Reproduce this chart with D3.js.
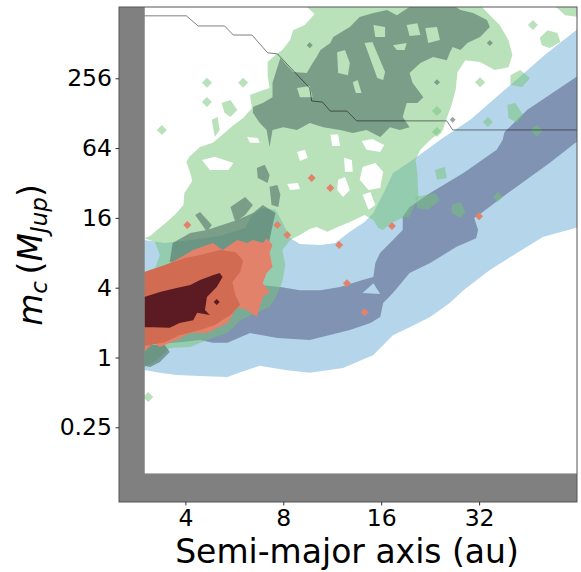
<!DOCTYPE html>
<html><head><meta charset="utf-8">
<script src="https://cdn.jsdelivr.net/npm/d3@7"></script>
<style>html,body{margin:0;padding:0;background:#fff;}svg{display:block;font-family:"DejaVu Sans",sans-serif;}</style>
</head><body>
<svg id="chart" width="581" height="572"></svg>
<script>
// ---------- data (all vertices are [log2(a / au), log2(m_c / M_Jup)]) ----------
const xDomain = [2.5, 64];
const yDomain = [0.0567, 1055];
const xTicks = [4, 8, 16, 32];
const yTicks = [0.25, 1, 4, 16, 64, 256];
const maskA = 3;      // excluded region a < 3 au
const maskM = 0.1;    // excluded region m < 0.1 M_Jup

const blueOuter = [[1.58,3.37],[1.79,3.28],[2.05,3.37],[2.35,3.48],[2.61,3.71],[2.68,4.08],[2.78,4.28],[2.92,4.23],[2.99,3.88],[3.07,3.42],[3.17,3.25],[3.38,3.22],[3.53,3.28],[3.68,3.60],[3.83,3.88],[3.92,4.14],[4.04,4.80],[4.12,5.29],[4.32,5.66],[4.63,6.29],[4.91,6.81],[5.32,7.81],[5.67,8.67],[6.02,9.44],[6.02,3.74],[5.65,3.45],[5.39,3.00],[5.11,2.51],[4.84,1.93],[4.70,1.56],[4.50,1.16],[4.29,0.87],[4.12,0.64],[3.92,0.07],[3.61,-0.30],[3.27,-0.44],[3.02,-0.36],[2.76,-0.24],[2.56,-0.42],[2.43,-0.56],[2.15,-0.53],[1.91,-0.50],[1.74,-0.44],[1.58,-0.36]];
const blueInner = [[1.58,1.65],[1.94,1.76],[2.35,1.88],[2.61,2.02],[2.76,2.08],[2.97,2.02],[3.17,1.93],[3.38,1.93],[3.58,2.02],[3.81,2.22],[3.92,2.31],[3.94,2.71],[3.99,3.00],[4.12,3.37],[4.22,3.65],[4.22,4.03],[4.29,4.31],[4.50,4.71],[4.84,5.29],[5.18,5.95],[5.24,6.23],[5.26,6.46],[5.49,7.09],[6.02,8.09],[6.02,6.23],[5.72,5.57],[5.24,4.60],[5.01,4.11],[4.95,4.00],[4.99,3.65],[4.97,3.42],[4.77,3.17],[4.50,2.71],[4.29,2.42],[4.12,1.85],[4.02,1.56],[3.99,1.16],[3.89,0.99],[3.68,0.79],[3.27,0.50],[2.94,0.56],[2.66,0.70],[2.43,0.42],[2.28,0.42],[2.15,0.50],[1.94,0.44],[1.58,0.36]];
const blueNotch = [[3.81,1.85],[3.92,2.13],[3.99,1.82]];

// light-green level: outer ring followed by holes
const greenLight = [
  [[3.22,10.1],[3.32,9.84],[3.22,9.53],[3.10,9.38],[3.07,9.10],[2.99,8.81],[2.92,8.67],[2.84,8.47],[2.84,8.09],[2.86,7.72],[2.74,7.61],[2.66,7.52],[2.68,7.15],[2.59,6.86],[2.48,6.63],[2.40,6.43],[2.28,6.15],[2.15,6.03],[2.04,5.75],[2.01,5.60],[2.05,5.29],[2.07,5.06],[1.99,4.71],[1.98,4.37],[1.90,4.11],[1.81,3.88],[1.71,3.65],[1.64,3.48],[1.58,3.42],[1.69,3.31],[1.74,2.94],[1.69,2.56],[1.58,2.45],[1.58,-0.27],[1.71,-0.07],[1.84,0.27],[2.05,0.30],[2.22,0.50],[2.43,0.70],[2.56,1.07],[2.79,1.36],[2.86,1.45],[2.92,1.71],[2.99,2.16],[3.02,2.65],[2.99,3.08],[3.07,3.37],[3.17,3.51],[3.27,3.68],[3.34,3.74],[3.45,3.60],[3.58,3.77],[3.68,3.88],[3.83,4.08],[3.92,3.94],[3.97,3.71],[4.02,3.65],[4.09,3.83],[4.21,4.00],[4.29,4.03],[4.32,4.23],[4.38,4.60],[4.37,5.29],[4.35,5.66],[4.40,5.95],[4.50,6.23],[4.63,6.52],[4.67,6.86],[4.72,7.24],[4.76,7.67],[4.78,8.18],[4.86,8.52],[5.01,8.47],[5.16,8.24],[5.30,8.32],[5.34,8.67],[5.30,9.10],[5.21,9.53],[5.11,9.81],[5.01,10.1]],
  [[2.17,5.66],[2.30,5.75],[2.49,5.57],[2.44,5.37],[2.25,5.37]],
  [[3.81,5.46],[3.94,5.57],[4.02,5.32],[3.99,4.86],[3.87,4.80],[3.78,5.09]],
  [[3.56,5.09],[3.63,5.17],[3.68,4.80],[3.61,4.60],[3.55,4.80]],
  [[3.62,5.72],[3.70,5.66],[3.71,5.32],[3.63,5.32]],
  [[3.80,6.20],[3.91,6.26],[4.03,6.09],[3.99,5.89],[3.85,5.95]],
  [[3.48,6.38],[3.56,6.40],[3.58,6.06],[3.50,6.06]],
  [[3.81,4.66],[3.89,4.74],[3.94,4.37],[3.87,4.23]],
  [[3.14,5.89],[3.22,5.95],[3.25,5.72],[3.17,5.63]],
  [[3.04,4.97],[3.15,5.00],[3.17,4.83],[3.07,4.80]],
  [[2.63,6.32],[2.74,6.29],[2.76,6.15],[2.66,6.15]]
];
const greenLightPatches = [
  [[2.37,7.29],[2.46,7.38],[2.53,7.09],[2.46,6.89],[2.40,7.01]],
  [[2.27,6.81],[2.33,6.89],[2.35,6.52],[2.30,6.32]],
  [[5.32,8.09],[5.42,8.24],[5.52,8.01],[5.44,7.75],[5.32,7.81]],
  [[5.29,7.24],[5.37,7.29],[5.45,6.95],[5.39,6.72],[5.30,6.86]],
  [[4.55,5.37],[4.65,5.46],[4.67,5.14],[4.57,5.09]],
  [[4.35,4.60],[4.55,4.71],[4.60,4.51],[4.48,4.23],[4.37,4.28]],
  [[4.72,4.37],[4.81,4.46],[4.86,4.17],[4.81,4.00],[4.72,4.14]],
  [[5.52,6.52],[5.59,6.66],[5.65,6.52],[5.59,6.32]],
  [[5.62,9.16],[5.70,9.38],[5.80,9.30],[5.83,9.04],[5.72,8.87],[5.64,8.95]],
  [[5.76,10.1],[6.02,10.1],[6.02,9.76],[5.88,9.81]]
];
const greenLightDots = [[2.22,7.87],[2.22,7.32],[2.59,7.87],[1.76,6.52],[5.01,7.89],[5.09,6.75],[5.19,4.60],[5.55,9.53],[1.62,-1.13],[4.57,7.06],[4.57,6.46]];

// dark-green level: outer ring followed by holes
const greenDark = [
  [[2.69,7.18],[2.79,7.29],[2.89,7.46],[2.89,7.87],[2.97,8.58],[3.10,8.18],[3.24,8.15],[3.30,8.44],[3.34,8.61],[3.38,8.81],[3.48,9.01],[3.51,9.18],[3.68,9.47],[3.78,9.76],[3.92,9.87],[4.06,9.96],[4.16,9.81],[4.32,10.1],[4.73,10.1],[4.81,9.96],[4.94,9.87],[5.08,9.67],[5.11,9.47],[5.01,9.18],[4.88,9.01],[4.81,8.81],[4.73,8.90],[4.70,8.73],[4.67,8.52],[4.53,8.61],[4.40,8.44],[4.29,8.15],[4.32,7.87],[4.43,7.46],[4.37,7.29],[4.26,7.29],[4.22,6.89],[4.29,6.60],[4.19,6.52],[4.09,6.60],[3.99,6.32],[3.85,6.52],[3.71,6.43],[3.58,6.52],[3.41,6.60],[3.27,6.72],[3.14,6.52],[3.00,6.60],[2.89,6.52],[2.86,6.03],[2.83,6.52],[2.76,6.72],[2.69,7.01]],
  [[3.92,9.53],[4.04,9.47],[4.04,9.18],[3.94,9.18]],
  [[3.83,9.01],[3.91,9.04],[4.04,8.18],[4.02,7.95],[3.96,8.01]],
  [[3.55,8.75],[3.63,8.81],[3.68,8.44],[3.66,8.09],[3.56,8.15]],
  [[3.71,7.89],[3.76,7.95],[3.80,7.58],[3.74,7.58]],
  [[4.12,8.95],[4.26,9.01],[4.24,8.81],[4.16,8.81]],
  [[4.26,9.53],[4.37,9.58],[4.40,9.24],[4.29,9.21]],
  [[4.45,9.44],[4.57,9.47],[4.60,9.10],[4.48,9.01]],
  [[3.14,7.72],[3.27,7.78],[3.30,7.46],[3.17,7.46]]
];
const greenDarkPatches = [
  [[2.73,5.43],[2.81,5.52],[2.86,5.23],[2.84,5.00],[2.74,5.14]],
  [[2.86,4.89],[2.94,4.94],[2.97,4.66],[2.95,4.31],[2.88,4.37]],
  [[2.46,4.31],[2.61,4.60],[2.69,4.37],[2.61,4.08],[2.51,3.88]],
  [[2.10,4.08],[2.15,4.17],[2.27,3.80],[2.22,3.60]],
  [[1.84,2.74],[1.87,3.28],[2.05,3.57],[2.22,3.65],[2.43,3.85],[2.53,3.94],[2.69,4.14],[2.79,4.37],[2.92,4.14],[2.88,3.65],[2.84,3.08],[2.66,2.85],[2.15,2.65]],
  [[1.58,0.36],[1.79,0.36],[1.84,0.16],[1.74,-0.13],[1.64,-0.27],[1.58,-0.24]]
];
const greenDarkDots = [[3.27,8.95],[4.57,7.89],[5.11,9.01],[4.73,6.81],[3.04,3.51]];

// red levels
const redLight = [[1.58,2.31],[1.74,2.56],[1.94,2.85],[2.08,3.08],[2.28,3.28],[2.38,3.08],[2.53,3.37],[2.63,3.28],[2.69,3.37],[2.79,3.28],[2.83,3.42],[2.89,3.22],[2.86,3.00],[2.89,2.59],[2.83,2.42],[2.79,2.13],[2.86,1.88],[2.79,1.73],[2.73,1.16],[2.63,1.36],[2.53,1.45],[2.43,0.99],[2.22,0.70],[2.05,0.70],[1.91,0.50],[1.74,0.30],[1.67,0.42],[1.58,0.16]];
const redMid = [[1.58,2.45],[1.79,2.65],[2.00,2.85],[2.15,2.94],[2.35,3.08],[2.51,3.02],[2.59,2.79],[2.56,2.45],[2.48,2.16],[2.51,1.79],[2.56,1.51],[2.46,1.22],[2.30,0.93],[2.15,0.79],[1.94,0.64],[1.79,0.44],[1.64,0.36],[1.58,0.33]];
const redCore = [[1.58,1.73],[1.74,1.88],[1.91,1.99],[2.05,2.08],[2.15,2.22],[2.28,2.36],[2.35,2.42],[2.38,2.31],[2.32,2.02],[2.22,1.73],[2.20,1.36],[2.25,1.22],[2.12,1.28],[2.08,1.07],[1.94,0.99],[1.84,0.85],[1.67,0.87],[1.58,0.87]];
const redDots = [[2.02,3.80],[3.48,4.86],[4.11,3.77],[5.00,4.05],[2.94,3.80],[3.04,3.51],[3.65,2.13],[3.83,1.30],[3.57,3.22],[3.29,5.14]];
const redCoreDots = [[2.32,1.59]];

// stability limit (step line)
const stepLine = [[1.32,9.79],[2.01,9.79],[2.13,9.50],[2.40,9.50],[2.49,9.24],[2.68,9.24],[2.84,8.73],[2.94,8.70],[3.27,7.72],[3.29,7.35],[3.40,7.32],[3.48,7.06],[3.65,7.06],[3.75,6.78],[4.67,6.78],[4.73,6.52],[6.02,6.52]];

// ---------- drawing ----------
const svg = d3.select("#chart");
const L = 119, R = 577, T = 7, B = 502;
const x = d3.scaleLog().base(2).domain(xDomain).range([L, R]);
const y = d3.scaleLog().base(2).domain(yDomain).range([B, T]);
const P = p => [x(Math.pow(2, p[0])), y(Math.pow(2, p[1]))];
const ring = r => "M" + r.map(p => P(p).join(",")).join("L") + "Z";
const rings = rs => rs.map(ring).join("");
const diamond = (p, h) => { const [cx, cy] = P(p); return `M${cx},${cy-h}L${cx+h},${cy}L${cx},${cy+h}L${cx-h},${cy}Z`; };

svg.append("defs").append("clipPath").attr("id","clip")
  .append("rect").attr("x",L).attr("y",T).attr("width",R-L).attr("height",B-T);
const g = svg.append("g").attr("clip-path","url(#clip)");

// blue population
g.append("path").attr("d", ring(blueOuter)).attr("fill","#b4d5ea");
g.append("path").attr("d", ring(blueInner)).attr("fill","#8093b3");
g.append("path").attr("d", ring(blueNotch)).attr("fill","#b4d5ea");

// green population (translucent)
const LG = "#74c476", LGo = 0.5, DG = "#517168", DGo = 0.6;
g.append("path").attr("d", rings(greenLight)).attr("fill-rule","evenodd").attr("fill",LG).attr("fill-opacity",LGo);
g.append("path").attr("d", rings(greenLightPatches) + greenLightDots.map(p=>diamond(p,5)).join("")).attr("fill",LG).attr("fill-opacity",LGo);
g.append("path").attr("d", rings(greenDark)).attr("fill-rule","evenodd").attr("fill",DG).attr("fill-opacity",DGo);
g.append("path").attr("d", rings(greenDarkPatches) + greenDarkDots.map(p=>diamond(p,3)).join("")).attr("fill",DG).attr("fill-opacity",DGo);

// red population
g.append("path").attr("d", ring(redLight)).attr("fill","#e3826a");
g.append("path").attr("d", ring(redMid)).attr("fill","#d16b51");
g.append("path").attr("d", ring(redCore)).attr("fill","#5c1a22");
g.append("path").attr("d", redDots.map(p=>diamond(p,4)).join("")).attr("fill","#e3826a");
g.append("path").attr("d", redCoreDots.map(p=>diamond(p,3)).join("")).attr("fill","#5c1a22");

// step line
g.append("path").attr("d", d3.line()(stepLine.map(P))).attr("fill","none")
  .attr("stroke","#000").attr("stroke-opacity",0.5).attr("stroke-width",1);

// excluded regions
svg.append("rect").attr("x",L).attr("y",T).attr("width",x(maskA)-L).attr("height",B-T).attr("fill","#808080");
svg.append("rect").attr("x",L).attr("y",y(maskM)).attr("width",R-L).attr("height",B-y(maskM)).attr("fill","#808080");

// spines
svg.append("rect").attr("x",L).attr("y",T).attr("width",R-L).attr("height",B-T)
  .attr("fill","none").attr("stroke","#555").attr("stroke-width",1);

// axes
const fmt = d => String(d);
const xa = svg.append("g").attr("transform",`translate(0,${B})`)
  .call(d3.axisBottom(x).tickValues(xTicks).tickFormat(fmt).tickSize(3.5).tickPadding(3.5).tickSizeOuter(0));
const ya = svg.append("g").attr("transform",`translate(${L},0)`)
  .call(d3.axisLeft(y).tickValues(yTicks).tickFormat(fmt).tickSize(3.5).tickPadding(3.5).tickSizeOuter(0));
[xa, ya].forEach(a => {
  a.select(".domain").remove();
  a.selectAll("line").attr("stroke","#000").attr("stroke-width",0.8);
  a.selectAll("text").attr("font-family","DejaVu Sans").attr("font-size",23.5).attr("fill","#000");
});

// axis labels
svg.append("text").attr("x",347).attr("y",563).attr("text-anchor","middle")
  .attr("font-size",33).attr("fill","#000").text("Semi-major axis (au)");
const yl = svg.append("text").attr("transform","translate(42,255) rotate(-90)")
  .attr("text-anchor","middle").attr("font-size",33).attr("fill","#000");
yl.append("tspan").attr("font-style","italic").text("m");
yl.append("tspan").attr("font-style","italic").attr("font-size",23).attr("dy",5).text("c");
yl.append("tspan").attr("dy",-5).text("\u2009(");
yl.append("tspan").attr("font-style","italic").text("M");
yl.append("tspan").attr("font-style","italic").attr("font-size",23).attr("dy",5).text("Jup");
yl.append("tspan").attr("dy",-5).text(")");
</script>
</body></html>
